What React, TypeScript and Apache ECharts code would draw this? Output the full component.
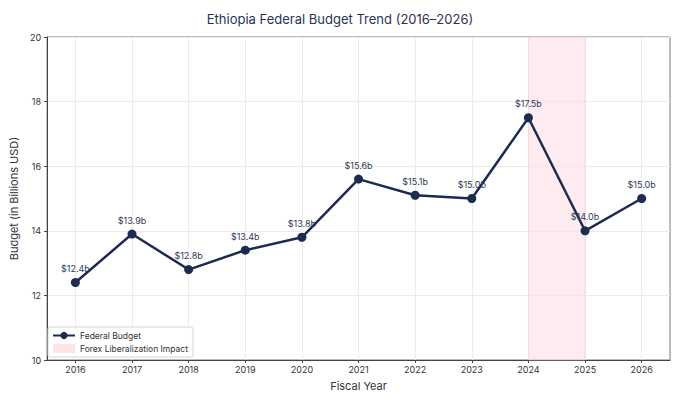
import React, { useEffect, useRef } from "react";
import * as echarts from "echarts";

const years = [2016, 2017, 2018, 2019, 2020, 2021, 2022, 2023, 2024, 2025, 2026];
const budget = [12.4, 13.9, 12.8, 13.4, 13.8, 15.6, 15.1, 15.0, 17.5, 14.0, 15.0];
const shadeRange = [2024, 2025];
const yTicks = { min: 10, max: 20, interval: 2 };

const FONT = "Inter, 'Noto Sans', sans-serif";
const NAVY = "#1c2b4f";

export default function App() {
  const ref = useRef<HTMLDivElement>(null);
  useEffect(() => {
    document.body.style.margin = "0";
    const chart = echarts.init(ref.current!, null, { renderer: "svg" });
    chart.setOption({
      animation: false,
      textStyle: { fontFamily: FONT },
      title: {
        text: "Ethiopia Federal Budget Trend (2016–2026)",
        left: "center",
        top: 7,
        textStyle: { fontSize: 13, fontWeight: "normal", color: "#2a3356", fontFamily: FONT },
      },
      grid: {
        left: 44,
        right: 10,
        top: 37,
        bottom: 42,
        show: true,
        borderColor: "#7a7a7a",
        borderWidth: 1,
        backgroundColor: "transparent",
      },
      legend: {
        orient: "vertical",
        left: 48,
        bottom: 45,
        itemGap: 4,
        itemWidth: 22,
        itemHeight: 9,
        padding: [4, 5, 4, 4],
        borderColor: "#d0d4dc",
        borderWidth: 1,
        borderRadius: 2,
        backgroundColor: "rgba(255,255,255,0.85)",
        textStyle: { fontSize: 8.5, color: "#333", fontFamily: FONT },
        data: [
          { name: "Federal Budget" },
          { name: "Forex Liberalization Impact", icon: "rect", itemStyle: { color: "#fce4ea" } },
        ],
      },
      xAxis: {
        type: "value",
        min: years[0] - 0.5,
        max: years[years.length - 1] + 0.5,
        name: "Fiscal Year",
        nameLocation: "middle",
        nameGap: 20,
        nameTextStyle: { fontSize: 11, color: "#333", fontFamily: FONT },
        axisLine: { show: true, lineStyle: { color: "#444", width: 1 } },
        axisTick: { show: true, customValues: years, length: 3, lineStyle: { color: "#444" } },
        axisLabel: { customValues: years, fontSize: 9, color: "#333", margin: 5, fontFamily: FONT, formatter: (v: number) => String(v) },
        splitLine: { show: true, lineStyle: { color: "#ebebeb", width: 1 } },
      },
      yAxis: {
        type: "value",
        min: yTicks.min,
        max: yTicks.max,
        interval: yTicks.interval,
        name: "Budget (in Billions USD)",
        nameLocation: "middle",
        nameGap: 22,
        nameTextStyle: { fontSize: 11, color: "#333", fontFamily: FONT },
        axisLine: { show: true, lineStyle: { color: "#444", width: 1 } },
        axisTick: { show: true, length: 3, lineStyle: { color: "#444" } },
        axisLabel: { fontSize: 9, color: "#333", margin: 6, fontFamily: FONT },
        splitLine: { show: true, lineStyle: { color: "#ebebeb", width: 1 } },
      },
      series: [
        {
          name: "Forex Liberalization Impact",
          type: "line",
          data: [],
          itemStyle: { color: "#fce4ea" },
          markArea: {
            silent: true,
            itemStyle: { color: "rgba(252,222,229,0.6)", borderColor: "rgba(245,200,210,0.8)", borderWidth: 0.5 },
            data: [[{ xAxis: shadeRange[0] }, { xAxis: shadeRange[1] }]],
          },
        },
        {
          name: "Federal Budget",
          type: "line",
          data: years.map((y, i) => [y, budget[i]]),
          symbol: "circle",
          symbolSize: 9,
          lineStyle: { color: NAVY, width: 2.5 },
          itemStyle: { color: NAVY },
          label: {
            show: true,
            position: "top",
            distance: 5,
            fontSize: 9,
            color: "#2f3a57",
            fontFamily: FONT,
            formatter: (p: any) => "$" + p.value[1].toFixed(1) + "b",
          },
          z: 5,
        },
      ],
    });
    return () => chart.dispose();
  }, []);
  return <div ref={ref} style={{ width: 680, height: 402 }} />;
}
